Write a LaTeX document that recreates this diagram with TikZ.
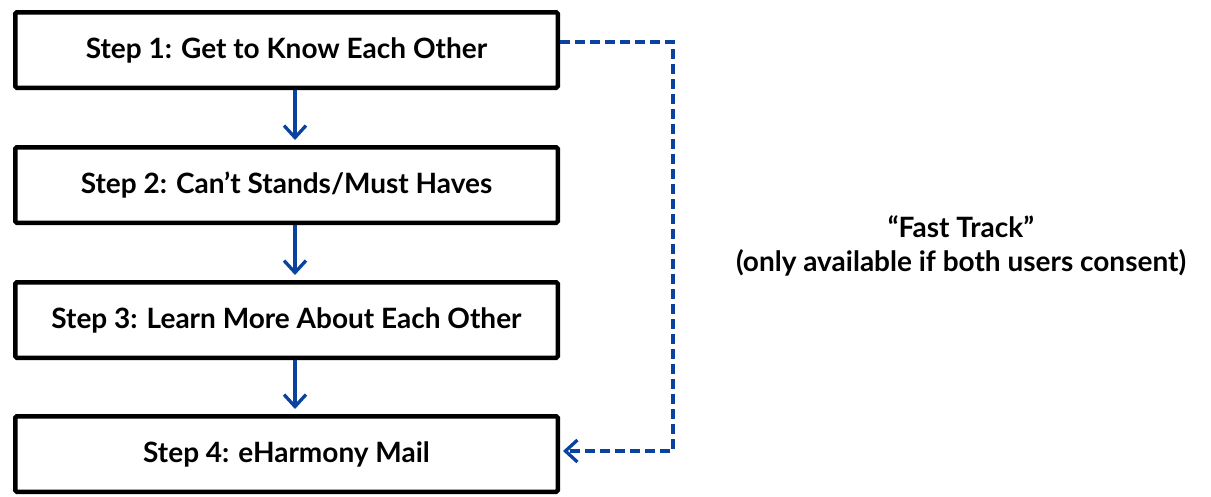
\documentclass[tikz,border=0pt]{standalone}
\usepackage{fontspec}
\setmainfont{Lato}
\usetikzlibrary{arrows.meta}
\definecolor{flowblue}{RGB}{10,66,160}
\begin{document}
\begin{tikzpicture}[x=1pt,y=-1pt,
  stepbox/.style={draw=black, line width=4.5pt, rounded corners=1.5pt,
    minimum width=542.5pt, minimum height=75.5pt, inner sep=0pt,
    text height=20pt, text depth=4pt,
    font=\fontsize{28}{32}\selectfont\bfseries},
  flow/.style={draw=flowblue, line width=3.3pt,
    -{Straight Barb[length=12pt,width=22pt,line width=3.3pt]}},
  fast/.style={flow, dash pattern=on 10pt off 5pt},
  note/.style={align=center, font=\fontsize{28}{34}\selectfont\bfseries}]
\useasboundingbox (0,0) rectangle (1211,496);
\node[stepbox] (s1) at (286.5,50) {Step 1: Get to Know Each Other};
\node[stepbox] (s2) at (286.5,185) {Step 2: Can’t Stands/Must Haves};
\node[stepbox] (s3) at (286.5,320) {Step 3: Learn More About Each Other};
\node[stepbox] (s4) at (286.5,454) {Step 4: eHarmony Mail};
\draw[flow] ([xshift=8.5pt]s1.south) -- ([xshift=8.5pt,yshift=5pt]s2.north);
\draw[flow] ([xshift=8.5pt]s2.south) -- ([xshift=8.5pt,yshift=5pt]s3.north);
\draw[flow] ([xshift=8.5pt]s3.south) -- ([xshift=8.5pt,yshift=5pt]s4.north);
\coordinate (c) at (673,42);
\draw[fast] ([yshift=8pt]s1.east) -- (c) |- ([xshift=3pt,yshift=3pt]s4.east);
\node[note] (ft) at (961,246) {“Fast Track”\\(only available if both users consent)};
\end{tikzpicture}
\end{document}
